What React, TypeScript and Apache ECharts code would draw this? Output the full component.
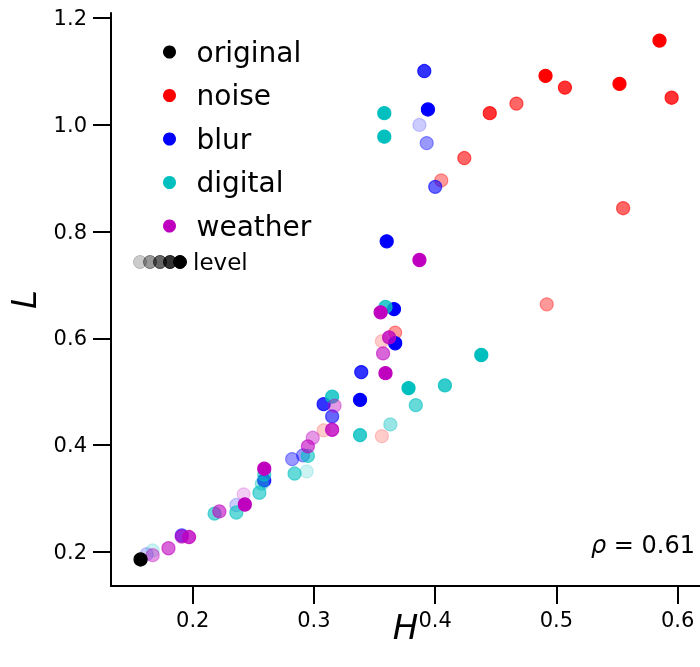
import React, { useEffect, useRef } from "react";
import * as echarts from "echarts";

const FONT = "DejaVu Sans";

const categories = ["original", "noise", "blur", "digital", "weather"];
const categoryColors = ["#000000", "#ff0000", "#0000ff", "#00bfbf", "#bf00bf"];
const levelAlpha = [0.2, 0.4, 0.6, 0.8, 1.0];
const levelLegend = [1, 2, 3, 4, 5];

const xTicks = [0.2, 0.3, 0.4, 0.5, 0.6];
const yTicks = [0.2, 0.4, 0.6, 0.8, 1.0, 1.2];

const originalH = [0.157];
const originalL = [0.186];
const originalLevel = [5];

const noiseH = [0.585, 0.491, 0.552, 0.507, 0.595, 0.445, 0.467, 0.424, 0.555, 0.405, 0.492, 0.367, 0.356, 0.356, 0.308];
const noiseL = [1.158, 1.092, 1.077, 1.070, 1.051, 1.022, 1.040, 0.938, 0.844, 0.896, 0.664, 0.611, 0.595, 0.417, 0.428];
const noiseLevel = [5, 5, 5, 4, 4, 4, 3, 3, 3, 2, 2, 2, 1, 1, 1];

const blurH = [0.394, 0.360, 0.366, 0.367, 0.338, 0.391, 0.339, 0.308, 0.259, 0.400, 0.315, 0.191, 0.393, 0.282, 0.291, 0.387, 0.236, 0.162];
const blurL = [1.029, 0.782, 0.655, 0.591, 0.485, 1.101, 0.537, 0.477, 0.334, 0.884, 0.454, 0.231, 0.966, 0.374, 0.381, 1.000, 0.288, 0.196];
const blurLevel = [5, 5, 5, 5, 5, 4, 4, 4, 4, 3, 3, 3, 2, 2, 2, 1, 1, 1];

const digitalH = [0.358, 0.358, 0.378, 0.438, 0.359, 0.408, 0.338, 0.315, 0.384, 0.295, 0.284, 0.255, 0.236, 0.218, 0.259, 0.363, 0.257, 0.294, 0.167];
const digitalL = [1.022, 0.978, 0.507, 0.569, 0.659, 0.512, 0.419, 0.491, 0.475, 0.380, 0.347, 0.311, 0.274, 0.272, 0.345, 0.439, 0.328, 0.351, 0.203];
const digitalLevel = [5, 5, 5, 5, 4, 4, 4, 4, 3, 3, 3, 3, 3, 3, 3, 2, 2, 1, 1];

const weatherH = [0.387, 0.355, 0.359, 0.259, 0.243, 0.362, 0.315, 0.197, 0.357, 0.295, 0.222, 0.191, 0.180, 0.317, 0.299, 0.167, 0.242];
const weatherL = [0.747, 0.649, 0.535, 0.356, 0.289, 0.602, 0.429, 0.228, 0.572, 0.398, 0.276, 0.229, 0.207, 0.474, 0.414, 0.194, 0.308];
const weatherLevel = [5, 5, 5, 5, 5, 4, 4, 4, 3, 3, 3, 3, 3, 2, 2, 2, 1];

function rgba(hex: string, a: number) {
  const r = parseInt(hex.slice(1, 3), 16);
  const g = parseInt(hex.slice(3, 5), 16);
  const b = parseInt(hex.slice(5, 7), 16);
  return `rgba(${r},${g},${b},${a})`;
}

export default function App() {
  const ref = useRef<HTMLDivElement>(null);
  useEffect(() => {
    if (!ref.current) return;
    const chart = echarts.init(ref.current, null, { renderer: "svg" });

    const groups: Record<string, [number[], number[], number[]]> = {
      original: [originalH, originalL, originalLevel],
      noise: [noiseH, noiseL, noiseLevel],
      blur: [blurH, blurL, blurLevel],
      digital: [digitalH, digitalL, digitalLevel],
      weather: [weatherH, weatherL, weatherLevel],
    };
    const drawOrder = ["noise", "blur", "digital", "weather", "original"];

    const series = drawOrder.map((name) => {
      const color = categoryColors[categories.indexOf(name)];
      const [hs, ls, lv] = groups[name];
      const data = hs
        .map((h, i) => ({ h, l: ls[i], lev: lv[i] }))
        .sort((a, b) => a.lev - b.lev)
        .map((p) => {
          const a = levelAlpha[p.lev - 1];
          return {
            value: [p.h, p.l],
            itemStyle: { color: rgba(color, a), borderColor: rgba(color, a), borderWidth: 1.2, opacity: 1 },
          };
        });
      return {
        name,
        type: "scatter",
        symbol: "circle",
        symbolSize: 13,
        itemStyle: { color, opacity: 1 },
        emphasis: { disabled: true },
        data,
      };
    });

    const levelCircles = levelLegend.map((lv, i) => ({
      type: "circle",
      shape: { cx: 140 + i * 10, cy: 262, r: 6.5 },
      style: { fill: rgba("#000000", levelAlpha[lv - 1]), stroke: rgba("#000000", levelAlpha[lv - 1]), lineWidth: 1 },
      silent: true,
    }));

    chart.setOption({
      animation: false,
      grid: { left: 111, right: 0, top: 13, bottom: 81, containLabel: false, outerBoundsMode: "none" },
      xAxis: {
        type: "value",
        min: 0.1326,
        max: 0.6184,
        name: "H",
        nameLocation: "middle",
        nameGap: 24,
        nameMoveOverlap: false,
        nameTextStyle: { fontSize: 34, fontStyle: "italic", fontFamily: FONT, color: "#000", verticalAlign: "top" },
        axisLine: { show: true, onZero: false, lineStyle: { color: "#000", width: 2 } },
        axisTick: { show: true, length: 18, customValues: xTicks, lineStyle: { color: "#000", width: 2 } },
        axisLabel: { customValues: xTicks, fontSize: 21, color: "#000", fontFamily: FONT, margin: 23, formatter: (v: number) => v.toFixed(1) },
        splitLine: { show: false },
      },
      yAxis: {
        type: "value",
        min: 0.1363,
        max: 1.2097,
        name: "L",
        nameLocation: "middle",
        nameRotate: 90,
        nameGap: 70,
        nameMoveOverlap: false,
        nameTextStyle: { fontSize: 34, fontStyle: "italic", fontFamily: FONT, color: "#000" },
        axisLine: { show: true, onZero: false, lineStyle: { color: "#000", width: 2 } },
        axisTick: { show: true, length: 18, customValues: yTicks, lineStyle: { color: "#000", width: 2 } },
        axisLabel: { customValues: yTicks, fontSize: 21, color: "#000", fontFamily: FONT, margin: 24, formatter: (v: number) => v.toFixed(1) },
        splitLine: { show: false },
      },
      legend: {
        orient: "vertical",
        left: 158,
        top: 33,
        itemWidth: 44,
        itemHeight: 13,
        itemGap: 15.5,
        icon: "circle",
        selectedMode: false,
        data: categories,
        itemStyle: { borderWidth: 0, opacity: 1 },
        textStyle: { fontSize: 28, color: "#000", fontFamily: FONT },
      },
      graphic: [
        ...levelCircles,
        {
          type: "text",
          x: 193,
          y: 262,
          silent: true,
          style: { text: "level", fontSize: 23, fontFamily: FONT, fill: "#000", align: "left", verticalAlign: "middle" },
        },
        {
          type: "text",
          x: 695,
          y: 545,
          silent: true,
          style: {
            text: "{i|ρ} = 0.61",
            fontSize: 24,
            fontFamily: FONT,
            fill: "#000",
            align: "right",
            verticalAlign: "middle",
            rich: { i: { fontStyle: "italic", fontSize: 24, fontFamily: FONT, fill: "#000" } },
          },
        },
      ],
      series,
    });
    return () => chart.dispose();
  }, []);
  return <div ref={ref} style={{ position: "fixed", left: 0, top: 0, width: 700, height: 667 }} />;
}
